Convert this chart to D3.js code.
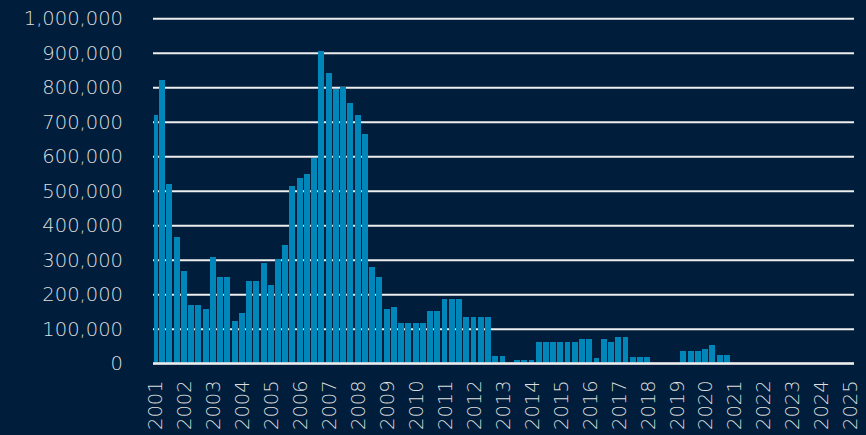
<!DOCTYPE html>
<html><head><meta charset="utf-8">
<script src="https://cdn.jsdelivr.net/npm/d3@7"></script>
<style>html,body{margin:0;padding:0;background:#001e3c;} svg{display:block;}</style>
</head><body><svg id="c" width="866" height="435"></svg>
<script>
const quarters = [
 "2001-01","2001-04","2001-07","2001-10","2002-01","2002-04","2002-07","2002-10",
 "2003-01","2003-04","2003-07","2003-10","2004-01","2004-04","2004-07","2004-10",
 "2005-01","2005-04","2005-07","2005-10","2006-01","2006-04","2006-07","2006-10",
 "2007-01","2007-04","2007-07","2007-10","2008-01","2008-04","2008-07","2008-10",
 "2009-01","2009-04","2009-07","2009-10","2010-01","2010-04","2010-07","2010-10",
 "2011-01","2011-04","2011-07","2011-10","2012-01","2012-04","2012-07","2012-10",
 "2013-01","2013-04","2013-07","2013-10","2014-01","2014-04","2014-07","2014-10",
 "2015-01","2015-04","2015-07","2015-10","2016-01","2016-04","2016-07","2016-10",
 "2017-01","2017-04","2017-07","2017-10","2018-01","2018-04","2018-07","2018-10",
 "2019-01","2019-04","2019-07","2019-10","2020-01","2020-04","2020-07","2020-10"
];
const values = [
 720000,820000,520000,365000, 267000,169000,169000,157000,
 307000,250000,249000,123000, 146000,238000,238000,290000,
 227000,301000,342000,515000, 537000,550000,595000,905000,
 842000,796000,801000,755000, 721000,664000,279000,250000,
 157000,163000,118000,118000, 118000,118000,152000,152000,
 186000,186000,186000,135000, 135000,135000,135000,20000,
 20000,0,9000,9000, 9000,61000,61000,61000,
 61000,61000,61000,71000, 71000,14500,71000,61000,
 77000,77000,19000,19000, 19000,0,0,0,
 0,37000,37000,37000, 42000,54000,25000,25000
];
const yearLabels = ["2001","2002","2003","2004","2005","2006","2007","2008","2009","2010",
 "2011","2012","2013","2014","2015","2016","2017","2018","2019","2020",
 "2021","2022","2023","2024","2025"];
const yTicks = [0,100000,200000,300000,400000,500000,600000,700000,800000,900000,1000000];

const W = 866, H = 435;
const BG = "#001e3c", BAR = "#0086b8", TXT = "#dedede", GRID = "#eeeeee";
const FONT = "'Century Gothic','URW Gothic','DejaVu Sans',sans-serif";
const svg = d3.select("#c");
svg.append("rect").attr("width", W).attr("height", H).attr("fill", BG);

const parseQ = d3.timeParse("%Y-%m");
const parseY = d3.timeParse("%Y");
const x = d3.scaleTime().domain([parseY("2001"), parseY("2025")]).range([155, 850]);
const y = d3.scaleLinear().domain([0, 1000000]).range([363.3, 18.3]);
const gridLeft = 153, gridRight = 854;

svg.append("defs").append("clipPath").attr("id", "plotclip")
  .append("rect").attr("x", 154).attr("y", 0).attr("width", gridRight - 154).attr("height", H);

// y axis with gridlines
const yAxis = svg.append("g").attr("transform", `translate(${gridLeft},0)`)
  .call(d3.axisLeft(y).tickValues(yTicks).tickFormat(d3.format(","))
    .tickSize(-(gridRight - gridLeft)).tickSizeOuter(0).tickPadding(30));
yAxis.select(".domain").remove();
yAxis.selectAll("line").attr("stroke", GRID).attr("stroke-width", 2);
yAxis.selectAll("text").attr("fill", TXT).style("font-family", FONT)
  .style("font-size", "19.5px").style("font-weight", 200);

// bars (one per quarter, centred on the quarter's start date)
const data = quarters.map((q, i) => ({date: parseQ(q), value: values[i]}));
const gap = 1.3;
svg.append("g").attr("clip-path", "url(#plotclip)")
  .selectAll("rect").data(data.filter(d => d.value > 0)).join("rect")
  .attr("x", d => {
    const step = x(d3.timeMonth.offset(d.date, 3)) - x(d.date);
    return x(d.date) - (step - gap) / 2;
  })
  .attr("width", d => x(d3.timeMonth.offset(d.date, 3)) - x(d.date) - gap)
  .attr("y", d => y(d.value))
  .attr("height", d => y(0) - y(d.value))
  .attr("fill", BAR)
  .attr("shape-rendering", "crispEdges");

// zero line on top
svg.append("line").attr("x1", gridLeft).attr("x2", gridRight)
  .attr("y1", y(0)).attr("y2", y(0)).attr("stroke", GRID).attr("stroke-width", 2);

// x axis
const xAxis = svg.append("g").attr("transform", `translate(0,${y(0)})`)
  .call(d3.axisBottom(x).tickValues(yearLabels.map(parseY))
    .tickFormat(d3.timeFormat("%Y")).tickSize(0));
xAxis.select(".domain").remove();
xAxis.selectAll("text")
  .attr("transform", "rotate(-90)")
  .attr("x", -17).attr("y", 0).attr("dy", "0.35em")
  .style("text-anchor", "end")
  .attr("fill", TXT).style("font-family", FONT)
  .style("font-size", "19.5px").style("font-weight", 200);
</script></body></html>
